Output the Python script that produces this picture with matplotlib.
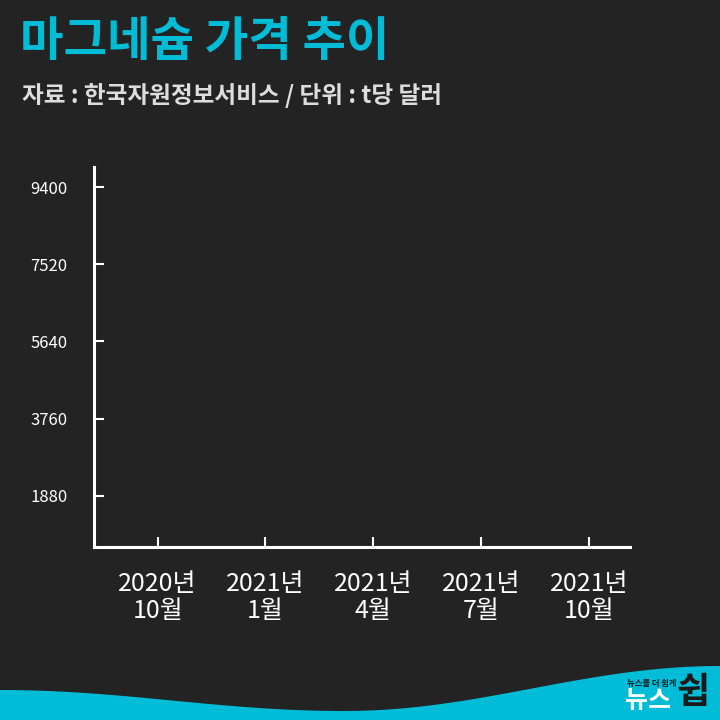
import numpy as np
import matplotlib.pyplot as plt
from matplotlib.patches import Polygon

plt.rcParams['font.family'] = ['Noto Sans CJK KR', 'DejaVu Sans']

# 데이터 (축만 있는 빈 차트)
x_labels = ['2020년\n10월', '2021년\n1월', '2021년\n4월', '2021년\n7월', '2021년\n10월']
y_ticks = [1880, 3760, 5640, 7520, 9400]

bg = '#232323'
cyan = '#00bcd6'

fig = plt.figure(figsize=(7.2, 7.2), dpi=100, facecolor=bg)

# 제목
fig.text(0.028, 0.942, '마그네슘 가격 추이', color=cyan, fontsize=34,
         fontweight='bold', ha='left', va='center')
fig.text(0.030, 0.868, '자료 : 한국자원정보서비스 / 단위 : t당 달러', color='#dddddd',
         fontsize=17, fontweight='bold', ha='left', va='center')

ax = fig.add_axes([0.1306, 0.2403, 0.7444, 0.5278])
ax.set_facecolor(bg)

x = np.arange(len(x_labels))
ax.set_xticks(x)
ax.set_xticklabels(x_labels, linespacing=1.05, fontweight='medium')
ax.set_yticks(y_ticks)
ax.set_xlim(-0.59, 4.38)
ax.set_ylim(635, 9890)

for s in ['top', 'right']:
    ax.spines[s].set_visible(False)
for s in ['left', 'bottom']:
    ax.spines[s].set_color('white')
    ax.spines[s].set_linewidth(2.2)

ax.tick_params(axis='x', direction='in', length=7, width=1.5, color='white',
               labelcolor='white', labelsize=18, pad=17)
ax.tick_params(axis='y', direction='in', length=7, width=1.5, color='white',
               labelcolor='white', labelsize=12, pad=19)

# 하단 물결 (픽셀 기준)
px = np.linspace(0, 720, 300)
py = np.where(px <= 344,
              690 + 21 * (1 - np.cos(np.pi * px / 344)) / 2,
              711 - 45 * (1 - np.cos(np.pi * (px - 344) / 376)) / 2)
wx = px / 720
wy = (720 - py) / 720
wave = Polygon(np.column_stack([np.r_[wx, 1, 0], np.r_[wy, 0, 0]]),
               closed=True, transform=fig.transFigure, facecolor=cyan,
               edgecolor='none')
fig.patches.append(wave)

# 로고
fig.text(0.905, 0.051, '뉴스를 더 쉽게', color='#1a1a1a', fontsize=6,
         fontweight='bold', ha='center', va='center', style='italic')
fig.text(0.9, 0.026, '뉴스', color='white', fontsize=18, fontweight='bold',
         ha='center', va='center')
fig.text(0.962, 0.038, '쉽', color='#1a1a1a', fontsize=26, fontweight='bold',
         ha='center', va='center')

fig.savefig('out.png', dpi=100, facecolor=bg)
